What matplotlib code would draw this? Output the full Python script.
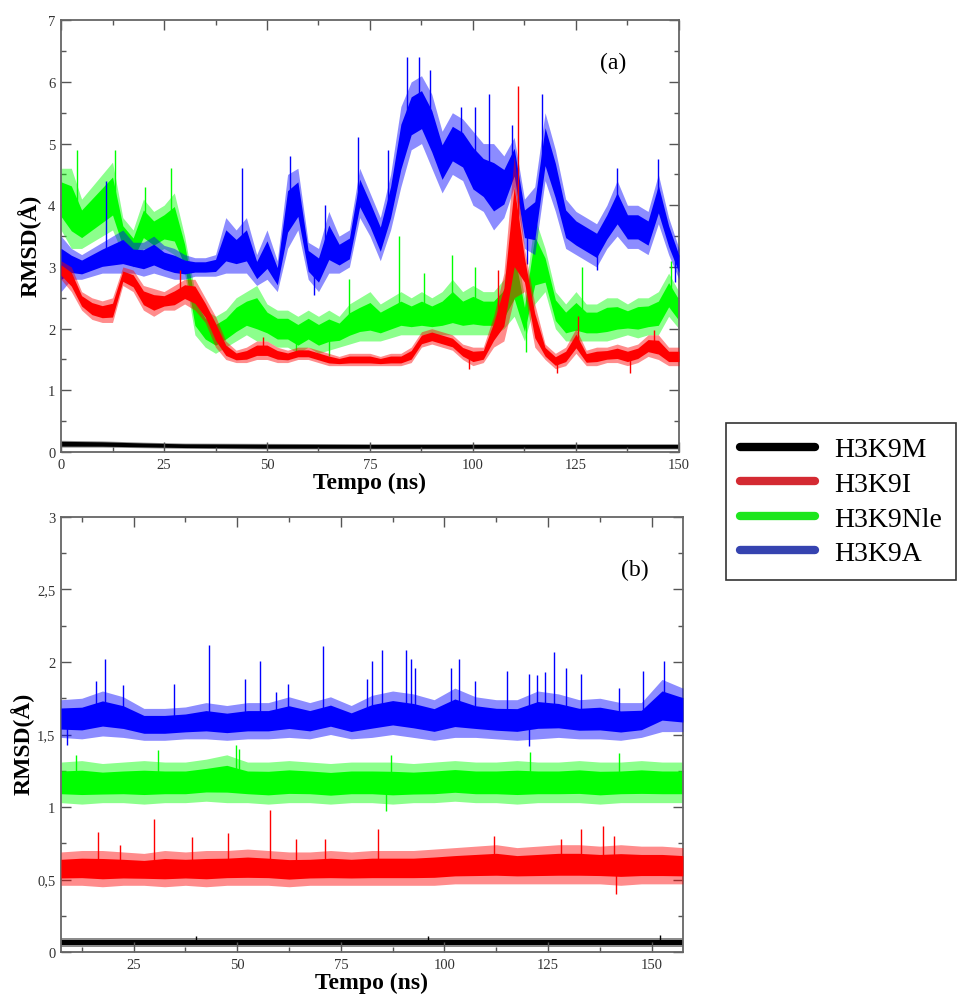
import numpy as np
import matplotlib
matplotlib.use("Agg")
import matplotlib.pyplot as plt
from matplotlib.lines import Line2D
from matplotlib.ticker import MultipleLocator, FuncFormatter

plt.rcParams['font.family'] = ['Liberation Serif', 'DejaVu Serif']

# ---- panel (a): band limits read every 2.5 ns ----
t_a = np.arange(0, 152.5, 2.5)

blue_a_lo = [2.6, 2.8, 2.8, 2.85, 2.9, 2.9, 2.9, 2.9, 2.85, 2.9, 2.85, 2.8, 2.8, 2.85, 2.85, 2.85,
             2.9, 2.9, 2.9, 2.7, 2.8, 2.6, 3.3, 3.6, 2.8, 2.6, 2.9, 2.9, 3.0, 3.8, 3.5, 3.1, 3.6,
             4.3, 4.9, 5.0, 4.6, 4.2, 4.5, 4.4, 4.0, 3.9, 3.6, 3.8, 4.3, 3.3, 3.2, 4.4, 3.9, 3.3,
             3.2, 3.1, 3.0, 3.3, 3.5, 3.3, 3.3, 3.2, 3.7, 3.2, 2.8]
blue_a_hi = [3.5, 3.3, 3.2, 3.3, 3.4, 3.5, 3.6, 3.4, 3.4, 3.5, 3.35, 3.3, 3.2, 3.15, 3.15, 3.2,
             3.8, 3.6, 3.8, 3.2, 3.6, 3.1, 4.5, 4.6, 3.4, 3.3, 3.9, 3.5, 3.6, 4.6, 4.2, 3.8, 4.5,
             5.6, 6.0, 6.1, 5.8, 5.2, 5.5, 5.4, 5.2, 5.0, 5.0, 4.8, 5.1, 4.1, 4.3, 5.5, 4.9, 4.1,
             3.9, 3.8, 3.7, 4.0, 4.4, 4.0, 4.0, 3.9, 4.5, 3.8, 3.3]
blue_a_spk_t = [11, 44, 55.5, 64, 72, 79.3, 84, 87, 89.5, 97, 100.5, 104, 109.5, 116.8, 135, 145,
                61.5, 113, 130, 149]
blue_a_spk_v = [4.4, 4.6, 4.8, 4.0, 5.1, 4.9, 6.4, 6.4, 6.2, 5.6, 5.6, 5.8, 5.3, 5.8, 4.6, 4.75,
                2.55, 3.05, 2.95, 2.75]

green_a_lo = [3.6, 3.3, 3.3, 3.4, 3.5, 3.6, 3.2, 3.0, 3.3, 3.2, 3.3, 3.2, 2.9, 1.9, 1.7, 1.6,
              1.7, 1.8, 1.9, 1.8, 1.8, 1.7, 1.7, 1.6, 1.7, 1.6, 1.65, 1.7, 1.75, 1.8, 1.8, 1.8,
              1.85, 1.9, 1.9, 1.9, 1.9, 1.9, 1.9, 1.9, 1.9, 1.9, 1.9, 2.0, 2.2, 1.8, 2.4, 2.6,
              2.0, 1.8, 1.8, 1.8, 1.8, 1.8, 1.85, 1.9, 1.85, 1.9, 1.9, 2.2, 2.0]
green_a_hi = [4.6, 4.6, 4.1, 4.3, 4.5, 4.7, 3.8, 3.6, 4.1, 3.9, 4.0, 4.2, 3.5, 2.6, 2.3, 2.2,
              2.3, 2.5, 2.6, 2.7, 2.4, 2.3, 2.3, 2.2, 2.3, 2.2, 2.3, 2.2, 2.4, 2.5, 2.6, 2.4,
              2.5, 2.6, 2.5, 2.6, 2.5, 2.6, 2.8, 2.6, 2.7, 2.6, 2.6, 2.8, 3.5, 2.5, 3.8, 3.3,
              2.6, 2.4, 2.6, 2.4, 2.4, 2.5, 2.5, 2.4, 2.5, 2.5, 2.6, 2.9, 2.6]
green_a_spk_t = [4, 13, 20.3, 26.8, 70, 82, 88, 95, 100.6, 126.5, 148, 57, 65, 112.8]
green_a_spk_v = [4.9, 4.9, 4.3, 4.6, 2.8, 3.5, 2.9, 3.2, 3.0, 3.0, 3.1, 1.55, 1.55, 1.62]

red_a_lo = [2.8, 2.6, 2.3, 2.15, 2.1, 2.1, 2.7, 2.6, 2.3, 2.2, 2.3, 2.3, 2.4, 2.3, 2.1, 1.7,
            1.5, 1.45, 1.45, 1.5, 1.5, 1.45, 1.45, 1.5, 1.5, 1.45, 1.4, 1.4, 1.4, 1.4, 1.4, 1.4,
            1.4, 1.4, 1.45, 1.7, 1.75, 1.7, 1.65, 1.5, 1.4, 1.45, 1.7, 1.8, 2.5, 2.6, 1.7, 1.5,
            1.35, 1.4, 1.6, 1.4, 1.4, 1.45, 1.45, 1.4, 1.45, 1.55, 1.5, 1.4, 1.4]
red_a_hi = [3.1, 3.0, 2.6, 2.5, 2.45, 2.5, 3.0, 2.95, 2.7, 2.65, 2.6, 2.7, 2.8, 2.8, 2.5, 2.2,
            1.8, 1.65, 1.7, 1.8, 1.8, 1.7, 1.65, 1.7, 1.7, 1.65, 1.6, 1.55, 1.6, 1.6, 1.6, 1.55,
            1.6, 1.6, 1.7, 1.95, 2.0, 1.95, 1.9, 1.75, 1.7, 1.7, 2.2, 2.9, 4.8, 3.3, 2.4, 1.75,
            1.6, 1.7, 2.0, 1.65, 1.7, 1.7, 1.75, 1.7, 1.75, 1.9, 1.9, 1.7, 1.7]
red_a_spk_t = [29, 49, 106, 111, 125.6, 144, 99, 120.5, 138]
red_a_spk_v = [2.95, 1.86, 2.95, 5.93, 2.2, 1.97, 1.35, 1.28, 1.28]

black_a_t = [0, 10, 20, 30, 50, 75, 100, 125, 150]
black_a_lo = [0.08, 0.08, 0.07, 0.06, 0.05, 0.05, 0.05, 0.05, 0.05]
black_a_hi = [0.19, 0.18, 0.16, 0.145, 0.14, 0.135, 0.135, 0.135, 0.135]

# ---- panel (b): band limits read every 5 ns ----
t_b = np.arange(7.5, 160, 5)

blue_b_lo = [1.48, 1.47, 1.49, 1.48, 1.46, 1.46, 1.47, 1.47, 1.46, 1.47, 1.47, 1.48, 1.47, 1.50,
             1.47, 1.48, 1.50, 1.48, 1.46, 1.48, 1.48, 1.47, 1.46, 1.47, 1.48, 1.47, 1.47, 1.46,
             1.48, 1.52, 1.52]
blue_b_hi = [1.74, 1.75, 1.80, 1.76, 1.68, 1.68, 1.69, 1.72, 1.70, 1.72, 1.72, 1.76, 1.72, 1.76,
             1.70, 1.77, 1.80, 1.78, 1.74, 1.82, 1.76, 1.74, 1.74, 1.80, 1.78, 1.74, 1.75, 1.72,
             1.72, 1.88, 1.82]
blue_b_spk_t = [16, 18.2, 22.4, 34.7, 43.2, 51.8, 55.5, 59.4, 62.2, 70.7, 81.4, 82.6, 85, 90.7,
                92, 93, 101.5, 103.5, 107.4, 115.2, 120.3, 122.3, 124.2, 126.4, 129.4, 132.9,
                142, 148, 153, 9, 120.5]
blue_b_spk_v = [1.87, 2.02, 1.84, 1.85, 2.12, 1.88, 2.01, 1.79, 1.85, 2.11, 1.88, 2.01, 2.08, 2.08,
                2.02, 1.96, 1.96, 2.02, 1.87, 1.94, 1.92, 1.91, 1.93, 2.07, 1.96, 1.92,
                1.82, 1.94, 2.01, 1.43, 1.42]

green_b_lo = [1.03, 1.02, 1.03, 1.03, 1.02, 1.03, 1.03, 1.04, 1.03, 1.03, 1.02, 1.03, 1.03, 1.02,
              1.03, 1.03, 1.02, 1.03, 1.03, 1.04, 1.03, 1.03, 1.02, 1.03, 1.03, 1.03, 1.02, 1.03,
              1.03, 1.03, 1.03]
green_b_hi = [1.31, 1.32, 1.30, 1.31, 1.32, 1.31, 1.31, 1.33, 1.36, 1.31, 1.31, 1.32, 1.31, 1.30,
              1.31, 1.31, 1.31, 1.30, 1.31, 1.32, 1.31, 1.31, 1.32, 1.31, 1.31, 1.32, 1.31, 1.31,
              1.32, 1.31, 1.31]
green_b_spk_t = [11, 31, 49.6, 50.5, 87, 120.7, 142, 86]
green_b_spk_v = [1.36, 1.39, 1.43, 1.40, 1.36, 1.38, 1.37, 0.97]

red_b_lo = [0.46, 0.46, 0.45, 0.46, 0.46, 0.45, 0.46, 0.45, 0.46, 0.46, 0.46, 0.45, 0.46, 0.46,
            0.46, 0.46, 0.46, 0.46, 0.46, 0.47, 0.47, 0.47, 0.47, 0.47, 0.47, 0.47, 0.47, 0.46,
            0.47, 0.47, 0.47]
red_b_hi = [0.69, 0.70, 0.70, 0.69, 0.68, 0.70, 0.69, 0.70, 0.70, 0.71, 0.70, 0.69, 0.69, 0.70,
            0.69, 0.70, 0.70, 0.70, 0.71, 0.72, 0.73, 0.74, 0.72, 0.73, 0.74, 0.74, 0.73, 0.74,
            0.73, 0.73, 0.72]
red_b_spk_t = [16.5, 21.8, 30, 39, 47.8, 57.9, 64.2, 71.3, 84, 112, 128, 133, 138.2, 141, 141.5]
red_b_spk_v = [0.83, 0.74, 0.92, 0.79, 0.82, 0.98, 0.78, 0.78, 0.85, 0.80, 0.78, 0.85, 0.87, 0.80,
               0.40]

black_b_t = [7.5, 50, 100, 157.5]
black_b_lo = [0.035, 0.035, 0.035, 0.035]
black_b_hi = [0.095, 0.095, 0.095, 0.095]
black_b_spk_t = [40, 96, 152]
black_b_spk_v = [0.11, 0.11, 0.12]

names = ['H3K9M', 'H3K9I', 'H3K9Nle', 'H3K9A']
colors = {'H3K9M': '#000000', 'H3K9I': '#ff0000', 'H3K9Nle': '#00ff00', 'H3K9A': '#0000ff'}
legend_colors = ['#000000', '#d42a32', '#1ee61e', '#3543b0']
zorders = {'H3K9M': 1, 'H3K9Nle': 2, 'H3K9A': 3, 'H3K9I': 4}


def draw_band(ax, t, lo, hi, name, spk_t=None, spk_v=None, core=0.22):
    """Noisy trace drawn as a band between the read low/high limits."""
    t = np.asarray(t, float)
    lo = np.asarray(lo, float)
    hi = np.asarray(hi, float)
    c = colors[name]
    z = zorders[name]
    d = hi - lo
    ax.fill_between(t, lo, hi, color=c, alpha=0.45, lw=0, zorder=z)
    ax.fill_between(t, lo + core * d, hi - core * d, color=c, lw=0, zorder=z)
    if spk_t:
        base = np.interp(spk_t, t, (lo + hi) / 2)
        ax.vlines(spk_t, base, spk_v, color=c, lw=1.0, zorder=z)


def style_axes(ax, major_y, minor_y, label_x):
    ax.xaxis.set_major_locator(MultipleLocator(25))
    ax.xaxis.set_minor_locator(MultipleLocator(12.5))
    ax.yaxis.set_major_locator(MultipleLocator(major_y))
    ax.yaxis.set_minor_locator(MultipleLocator(minor_y))
    ax.tick_params(which='both', direction='in', top=True, right=True,
                   color='#555555', labelcolor='#333333', labelsize=10.5, width=1.0)
    ax.tick_params(which='major', length=7, pad=4)
    ax.tick_params(which='minor', length=3.5)
    for s in ax.spines.values():
        s.set_color('#666666')
        s.set_linewidth(1.3)
    ax.set_xlabel('Tempo (ns)', fontsize=17, fontweight='bold', labelpad=1)
    ax.set_ylabel('RMSD(Å)', fontsize=17, fontweight='bold')
    ax.yaxis.set_label_coords(label_x, 0.48)


fig = plt.figure(figsize=(9.64, 9.95), dpi=100)

# panel (a)
ax1 = fig.add_axes([0.0633, 0.5447, 0.641, 0.434])
draw_band(ax1, black_a_t, black_a_lo, black_a_hi, 'H3K9M', core=0.15)
draw_band(ax1, t_a, green_a_lo, green_a_hi, 'H3K9Nle', green_a_spk_t, green_a_spk_v)
draw_band(ax1, t_a, blue_a_lo, blue_a_hi, 'H3K9A', blue_a_spk_t, blue_a_spk_v)
draw_band(ax1, t_a, red_a_lo, red_a_hi, 'H3K9I', red_a_spk_t, red_a_spk_v)
ax1.set_xlim(0, 150)
ax1.set_ylim(0, 7)
style_axes(ax1, 1, 0.5, -0.032)
ax1.text(134, 6.32, '(a)', fontsize=17, ha='center', va='center')

# panel (b)
ax2 = fig.add_axes([0.0633, 0.0422, 0.645, 0.4372])
draw_band(ax2, black_b_t, black_b_lo, black_b_hi, 'H3K9M', black_b_spk_t, black_b_spk_v)
draw_band(ax2, t_b, red_b_lo, red_b_hi, 'H3K9I', red_b_spk_t, red_b_spk_v)
draw_band(ax2, t_b, green_b_lo, green_b_hi, 'H3K9Nle', green_b_spk_t, green_b_spk_v)
draw_band(ax2, t_b, blue_b_lo, blue_b_hi, 'H3K9A', blue_b_spk_t, blue_b_spk_v)
ax2.set_xlim(7.5, 157.5)
ax2.set_ylim(0, 3)
style_axes(ax2, 0.5, 0.25, -0.043)
ax2.yaxis.set_major_formatter(FuncFormatter(lambda v, p: ('%g' % v).replace('.', ',')))
ax2.text(146, 2.64, '(b)', fontsize=17, ha='center', va='center')

# legend box between the panels
handles = [Line2D([], [], color=c, lw=6, solid_capstyle='round') for c in legend_colors]
leg = fig.legend(handles, names, loc='upper left',
                 bbox_to_anchor=(726 / 964, 1 - 424 / 995), bbox_transform=fig.transFigure,
                 frameon=True, fancybox=False, edgecolor='black', fontsize=20,
                 handlelength=2.7, handletextpad=0.7, borderpad=0.5, labelspacing=0.33,
                 borderaxespad=0)
leg.get_frame().set_linewidth(1.2)

fig.savefig('out.png', dpi=100)
